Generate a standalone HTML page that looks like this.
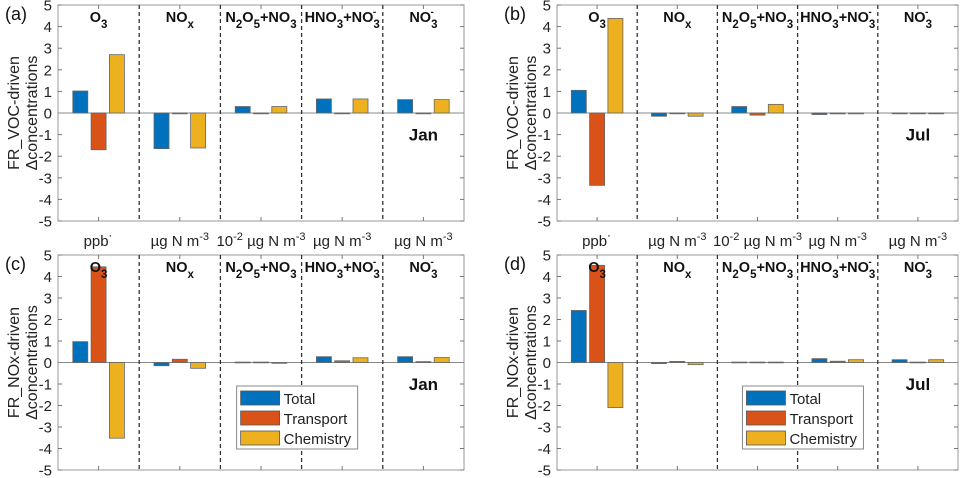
<!DOCTYPE html>
<html><head><meta charset="utf-8"><style>
html,body{margin:0;padding:0;background:#fff;}
svg{display:block;font-family:"Liberation Sans",Arial,sans-serif;}
</style></head><body>
<svg id="fig" width="964" height="478" viewBox="0 0 964 478" xmlns="http://www.w3.org/2000/svg"></svg>
<script>
// Data
const groups = ["O3","NOx","N2O5+NO3","HNO3+NO3-","NO3-"];
const seriesNames = ["Total","Transport","Chemistry"];
const yTicks = [5,4,3,2,1,0,-1,-2,-3,-4,-5];
const unitLabels = ["ppb","µg N m-3","10-2 µg N m-3","µg N m-3","µg N m-3"];
const aTotal = [1.02,-1.65,0.30,0.65,0.62];
const aTransport = [-1.70,0.00,0.00,0.00,0.00];
const aChemistry = [2.70,-1.62,0.30,0.65,0.62];
const bTotal = [1.05,-0.15,0.30,-0.07,-0.02];
const bTransport = [-3.35,-0.01,-0.10,-0.04,0.00];
const bChemistry = [4.38,-0.15,0.40,-0.04,-0.02];
const cTotal = [0.97,-0.15,0.02,0.27,0.27];
const cTransport = [4.45,0.15,0.02,0.08,0.04];
const cChemistry = [-3.52,-0.27,0.00,0.22,0.23];
const dTotal = [2.42,-0.05,0.02,0.18,0.13];
const dTransport = [4.52,0.05,0.02,0.06,0.02];
const dChemistry = [-2.10,-0.10,0.02,0.13,0.13];

const colors = ["#0072BD","#D95319","#EDB120"];
const NS = "http://www.w3.org/2000/svg";
const svg = document.getElementById("fig");
function mk(tag, attrs, parent){const e=document.createElementNS(NS,tag);for(const k in attrs)e.setAttribute(k,attrs[k]);(parent||svg).appendChild(e);return e;}

const panels = [
 {id:"a",x0:58,x1:464,y0:5,y1:221,data:[aTotal,aTransport,aChemistry],ylab:"FR_VOC-driven",month:"Jan",units:true,legend:false},
 {id:"b",x0:557,x1:958,y0:5,y1:221,data:[bTotal,bTransport,bChemistry],ylab:"FR_VOC-driven",month:"Jul",units:true,legend:false},
 {id:"c",x0:58,x1:464,y0:255,y1:470,data:[cTotal,cTransport,cChemistry],ylab:"FR_NOx-driven",month:"Jan",units:false,legend:true},
 {id:"d",x0:557,x1:958,y0:255,y1:470,data:[dTotal,dTransport,dChemistry],ylab:"FR_NOx-driven",month:"Jul",units:false,legend:true}
];

function titleHTML(g, t, x, y){
  t.setAttribute("x",x);t.setAttribute("y",y);
  const parts = {
    "O3":[["O",0],["3",1]],
    "NOx":[["NO",0],["x",1]],
    "N2O5+NO3":[["N",0],["2",1],["O",0],["5",1],["+NO",0],["3",1]],
    "HNO3+NO3-":[["HNO",0],["3",1],["+NO",0],["3-",2]],
    "NO3-":[["NO",0],["3-",2]]
  }[g];
  parts.forEach(([s,k])=>{
    if(k===0){const sp=mk("tspan",{},t);sp.textContent=s;}
    else if(k===1){const sp=mk("tspan",{dy:6,"font-size":"11.5"},t);sp.textContent=s;const r=mk("tspan",{dy:-6},t);r.textContent="\u200b";}
    else {const sp=mk("tspan",{dy:6,"font-size":"11.5"},t);sp.textContent="3";const s2=mk("tspan",{dx:-7,dy:-13,"font-size":"10"},t);s2.textContent="-";const r=mk("tspan",{dy:7},t);r.textContent="\u200b";}
  });
}

panels.forEach(p=>{
  const g = mk("g",{});
  
  
  const ys = v => p.y0 + (5 - v) * (p.y1 - p.y0) / 10;
  const gw = (p.x1 - p.x0) / groups.length;
  const xs = (gi, si) => p.x0 + gw * (gi + 0.5) + (si - 1) * 18.3;
  const fr = mk("rect",{x:p.x0,y:p.y0,width:p.x1-p.x0,height:p.y1-p.y0,fill:"none",stroke:"#999","stroke-width":1},g);
  
  
  yTicks.forEach(v=>{
    const y=ys(v);
    mk("line",{x1:p.x0,x2:p.x0+4,y1:y,y2:y,stroke:"#777"},g);
    mk("line",{x1:p.x1,x2:p.x1-4,y1:y,y2:y,stroke:"#777"},g);
    const t=mk("text",{x:p.x0-6,y:y+5.5,"text-anchor":"end","font-size":"15",fill:"#222"},g);
    
    
    t.textContent=v;
  });
  const zl=mk("line",{x1:p.x0,x2:p.x1,y1:ys(0),y2:ys(0),stroke:"#888","stroke-width":1},g);
  
  
  groups.forEach((name,gi)=>{
    const cx=p.x0+gw*(gi+0.5);
    mk("line",{x1:cx,x2:cx,y1:p.y1,y2:p.y1-4,stroke:"#777"},g);
    mk("line",{x1:cx,x2:cx,y1:p.y0,y2:p.y0+4,stroke:"#777"},g);
    if(gi>0){
      const dx=p.x0+gw*gi;
      const dl=mk("line",{x1:dx,x2:dx,y1:p.y0,y2:p.y1,stroke:"#333","stroke-width":1.3,"stroke-dasharray":"4,3"},g);
      
      
    }
    if(p.units){
      const u=mk("text",{x:cx,y:p.y1+25,"text-anchor":"middle","font-size":"15",fill:"#222"},g);
      
      
      const ul=unitLabels[gi];
      if(ul==="ppb"){u.textContent="ppb\u02d9";}
      else{
        if(ul.startsWith("10-2")){const a=mk("tspan",{},u);a.textContent="10";const b=mk("tspan",{dy:-6,"font-size":"11"},u);b.textContent="-2";const c=mk("tspan",{dy:6},u);c.textContent=" µg N m";}
        else{const c=mk("tspan",{},u);c.textContent="µg N m";}
        const e=mk("tspan",{dy:-6,"font-size":"11"},u);e.textContent="-3";
      }
    }
    p.data.forEach((arr,si)=>{
      const v=arr[gi];
      const x=xs(gi,si)-7.5;
      const y=Math.min(ys(v),ys(0));
      const h=Math.max(Math.abs(ys(v)-ys(0)),0.8);
      const r=mk("rect",{x:x,y:y,width:15,height:h,fill:colors[si],stroke:"#666","stroke-width":0.8},g);
      
      
    });
    const t=mk("text",{"text-anchor":"middle","font-size":"14.5","font-weight":"bold",fill:"#111"},g);
    
    
    titleHTML(name,t,cx,p.y0+17);
  });
  const m=mk("text",{x:p.x0+gw*4.5,y:ys(-1)+6,"text-anchor":"middle","font-size":"17","font-weight":"bold",fill:"#111"},g);
  
  
  m.textContent=p.month;
  const pl=mk("text",{x:p.x0-53,y:p.y0+15,"font-size":"18",fill:"#111"},g);
  
  
  pl.textContent="("+p.id+")";
  const cy=(p.y0+p.y1)/2;
  const yl=mk("text",{transform:"translate("+(p.x0-39)+","+cy+") rotate(-90)","text-anchor":"middle","font-size":"16",fill:"#222"},g);
  
  
  const t1=mk("tspan",{x:0,y:0},yl);t1.textContent=p.ylab;
  const t2=mk("tspan",{x:0,y:18},yl);t2.textContent="\u0394concentrations";
  if(p.legend){
    const lx=p.x0+gw*2.2+(p.id==="d"?9:0), ly=p.y0+131;
    const lg=mk("g",{},g);
    
    
    mk("rect",{x:lx,y:ly,width:121,height:63,fill:"#fff",stroke:"#888"},lg);
    seriesNames.forEach((n,si)=>{
      const e=mk("g",{},lg);
      
      
      mk("rect",{x:lx+4,y:ly+5+si*20,width:39,height:14,fill:colors[si],stroke:"#555","stroke-width":0.8},e);
      const t=mk("text",{x:lx+47,y:ly+18+si*20,"font-size":"15",fill:"#222"},e);
      t.textContent=n;
    });
  }
});
</script>
</body></html>
